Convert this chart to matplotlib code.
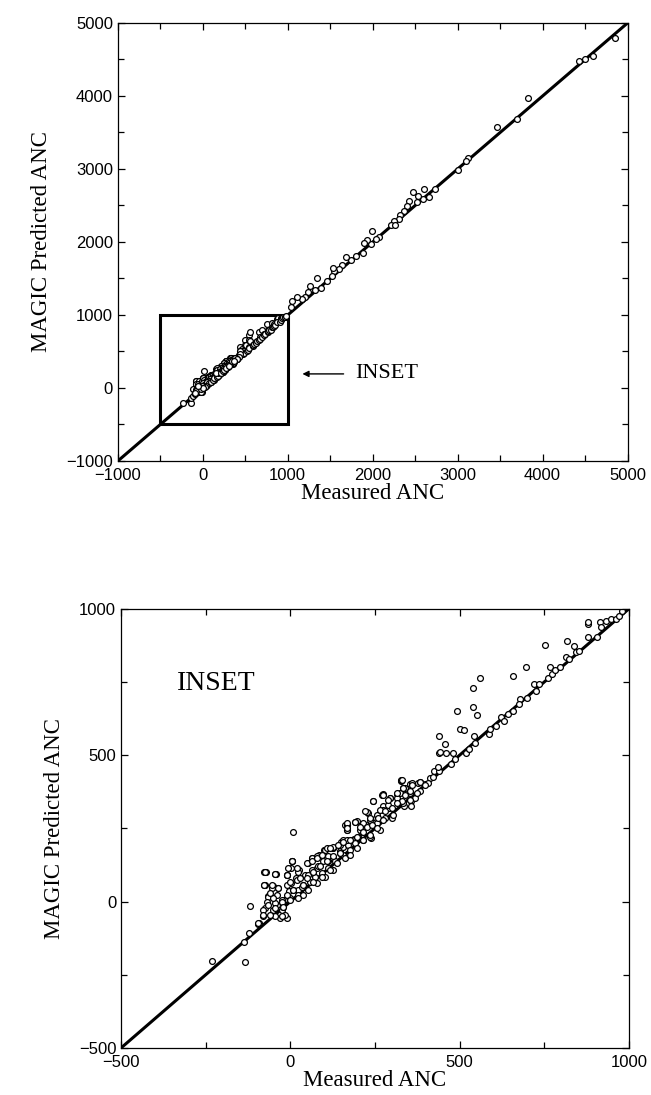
import matplotlib.pyplot as plt
from matplotlib.patches import Rectangle
from matplotlib.ticker import MultipleLocator

# measured vs predicted ANC, points inside the inset window (-500..1000)
inset_x = [-230, -134, -136, -121, -119, -97, -92, -81, -75, -73, -76, -43, -66, -51,
           -40, -30, -9, -45, -25, -20, -4, 1, 9, 6, 1, -9, 17, 27, 37, 22, 53, 63,
           68, 79, 84, 99, 125, 110, 125, 146, 166, 166, 166, 156, 187, 197, 208,
           213, 228, 223, 239, 244, 254, 264, 275, 273, 295, 290, 301, 316, 326,
           332, 342, 352, 357, 357, 337, 378, 383, 399, 414, 425, 440, 440, 440,
           456, 461, 476, 481, 492, 487, 502, 512, 518, 528, 539, 541, 551, 560,
           543, 545, 586, 591, 607, 622, 632, 643, 659, 659, 679, 674, 695, 700,
           721, 726, 736, 752, 762, 767, 772, 783, 798, 814, 817, 824, 839, 844,
           854, 878, 880, 878, 906, 916, 919, 931, 946, 962, 972, 979,
           -77, -45, -77, 4, -6, 48, 65, 78, 102, 124, 147, 151, 161, 112, 97, 83,
           63, 43, 24, 19, -11, -11, -36, -55, -40, -65, -70, -45, -26, 9, 33, 58,
           73, 93, 112, 132, 127, 102, 78, 53, 24, -1, -21, -50, -80, -16, -60, 156,
           442, 437, 422, 407, 383, 358, 328, 339, 324, 353, 368, 334, 314, 294,
           270, 245, 289, 274, 255, 225, 235, 215, 191, 166, 166, 206, 225, 255,
           280, 201, 181, 156, 215, 235, 147, 171, 127, 107,
           -75, -45, -78, -55, -35, -11, 4, 19, 29, -1, 9, 38, 53, 63, 78, 93, 117,
           142, 166, 191, 196, 176, 147, 127, 107, 88, 68, 48, 68, 93, 117, 137,
           162, 176, 38, 24, -11, -26, -50, -65, -45, -26, -80, -95, -21, -1, -60,
           329, 275, 245, 220, 191, 166, 166, 206, 235, 265, 289, 314, 334, 358,
           383, 398, 353, 353, 329, 314, 299, 279, 260, 240, 215, 196, 176, 156,
           215, 235, 255, 275, 304, 339, 373]
inset_y = [-203, -205, -139, -106, -14, -76, -74, -48, -22, 101, 57, 94, 18, 52,
           -11, -57, -57, -51, -28, 6, 35, 63, 238, 137, 115, 92, 80, 109, 57, 40,
           132, 149, 97, 115, 160, 177, 183, 137, 149, 172, 206, 263, 246, 160,
           212, 275, 240, 217, 303, 263, 217, 280, 286, 246, 326, 366, 354, 320,
           286, 366, 412, 389, 372, 400, 343, 326, 326, 406, 377, 400, 423, 446,
           446, 566, 509, 537, 509, 469, 509, 652, 486, 589, 585, 509, 520, 728,
           663, 638, 762, 566, 543, 574, 589, 600, 629, 617, 640, 772, 652, 692,
           674, 800, 697, 743, 720, 743, 878, 764, 800, 777, 790, 800, 834, 889,
           829, 874, 851, 857, 949, 954, 903, 905, 954, 937, 960, 966, 966, 974, 991,
           101, 95, 57, 137, 114, 133, 148, 156, 177, 184, 166, 205, 262, 154, 137,
           120, 108, 91, 102, 74, 91, 57, 46, 46, 23, 17, 0, -6, 6, 40, 51, 68, 85,
           97, 114, 137, 108, 85, 63, 40, 23, 11, -17, -28, -28, -46, -46, 188,
           512, 461, 427, 404, 410, 404, 416, 387, 370, 370, 353, 336, 353, 353,
           364, 342, 330, 313, 296, 307, 279, 268, 273, 262, 245, 245, 256, 268,
           285, 222, 211, 211, 211, 222, 194, 194, 188, 182,
           100, 93, 57, 57, 46, 91, 137, 114, 80, 68, 40, 57, 91, 137, 148, 159,
           182, 194, 211, 199, 182, 176, 165, 154, 137, 120, 102, 80, 68, 85, 108,
           131, 148, 159, 23, 11, 23, 0, 11, -11, -23, -51, -45, -74, -17, 6, 28,
           416, 364, 342, 308, 273, 268, 251, 256, 285, 313, 347, 370, 387, 399,
           410, 399, 376, 347, 342, 336, 319, 308, 285, 262, 239, 222, 211, 205,
           211, 228, 251, 279, 296, 364, 370]

# points above 1000 (only in the full-range panel)
upper_x = [4855, 4428, 4503, 4594, 3827, 3695, 3467, 3123, 3094, 2999, 2729, 2605,
           2659, 2597, 2535, 2472, 2526, 2431, 2398, 2369, 2319, 2307, 2245, 2216,
           2257, 2079, 2037, 1996, 1975, 1934, 1892, 1884, 1809, 1747, 1685, 1644,
           1602, 1540, 1528, 1519, 1457, 1387, 1345, 1320, 1262, 1237, 1209, 1167,
           1113, 1055, 1043]
upper_y = [4800, 4486, 4504, 4551, 3966, 3686, 3574, 3153, 3115, 2984, 2727, 2727,
           2620, 2587, 2634, 2685, 2545, 2563, 2493, 2423, 2367, 2311, 2292, 2236,
           2227, 2072, 2040, 2147, 1970, 2030, 1993, 1853, 1806, 1750, 1797, 1689,
           1628, 1605, 1642, 1539, 1469, 1376, 1502, 1338, 1394, 1315, 1245, 1221,
           1245, 1198, 1114]

serif = 'Liberation Serif'
sans = 'Liberation Sans'
plt.rcParams['font.family'] = sans

fig = plt.figure(figsize=(6.51, 10.95), dpi=100)
ax1 = fig.add_axes([0.181, 0.579, 0.783, 0.400])
ax2 = fig.add_axes([0.186, 0.043, 0.780, 0.401])

mk = dict(ls='none', marker='o', ms=4.2, mfc='white', mec='black', mew=0.9)

# top: full range
ax1.plot([-1000, 5000], [-1000, 5000], color='black', lw=2.2)
ax1.plot(inset_x + upper_x, inset_y + upper_y, **mk)
ax1.add_patch(Rectangle((-500, -500), 1500, 1500, fill=False, ec='black', lw=2.2))
ax1.annotate('', xy=(1140, 193), xytext=(1690, 193),
             arrowprops=dict(arrowstyle='-|>', color='black', lw=1.0,
                             mutation_scale=9))
ax1.text(1790, 193, 'INSET', family=serif, fontsize=16, ha='left', va='center')
ax1.set_xlim(-1000, 5000)
ax1.set_ylim(-1000, 5000)
ax1.xaxis.set_major_locator(MultipleLocator(1000))
ax1.yaxis.set_major_locator(MultipleLocator(1000))
ax1.xaxis.set_minor_locator(MultipleLocator(500))
ax1.yaxis.set_minor_locator(MultipleLocator(500))

# bottom: inset
ax2.plot([-500, 1000], [-500, 1000], color='black', lw=2.2)
ax2.plot(inset_x, inset_y, **mk)
ax2.text(-335, 745, 'INSET', family=serif, fontsize=20, ha='left', va='center')
ax2.set_xlim(-500, 1000)
ax2.set_ylim(-500, 1000)
ax2.xaxis.set_major_locator(MultipleLocator(500))
ax2.yaxis.set_major_locator(MultipleLocator(500))
ax2.xaxis.set_minor_locator(MultipleLocator(250))
ax2.yaxis.set_minor_locator(MultipleLocator(250))

for ax in (ax1, ax2):
    for sp in ax.spines.values():
        sp.set_linewidth(0.9)
    ax.tick_params(which='both', direction='in', top=True, right=True,
                   labelsize=12, width=0.9)
    ax.tick_params(which='major', length=5)
    ax.tick_params(which='minor', length=4)
    ax.tick_params(axis='x', pad=5)
    ax.set_xlabel('Measured ANC', family=serif, fontsize=16.5, labelpad=0)
    ax.set_ylabel('MAGIC Predicted ANC', family=serif, fontsize=16.5, labelpad=10)

fig.savefig('out.png', dpi=100)
